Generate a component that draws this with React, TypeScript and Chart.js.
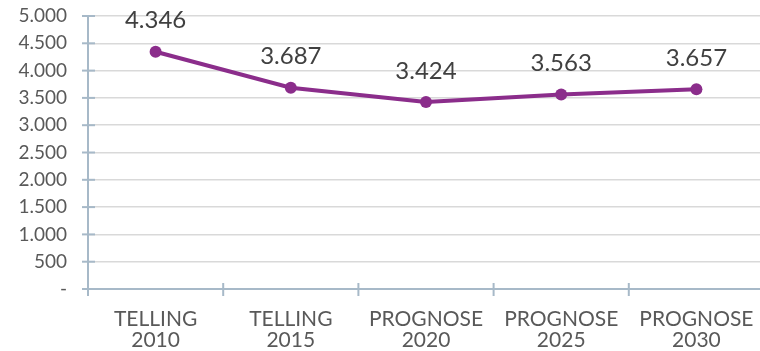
import React, { useEffect, useRef } from "react";
import { Chart, registerables } from "chart.js";

Chart.register(...registerables);

const categories: string[][] = [
  ["TELLING", "2010"],
  ["TELLING", "2015"],
  ["PROGNOSE", "2020"],
  ["PROGNOSE", "2025"],
  ["PROGNOSE", "2030"],
];
const values: number[] = [4346, 3687, 3424, 3563, 3657];
const yMin = 0;
const yMax = 5000;
const yStep = 500;

const fmt = (v: number): string =>
  v === 0 ? "-" : String(Math.round(v)).replace(/\B(?=(\d{3})+(?!\d))/g, ".");

const FONT = "Lato, 'Open Sans', sans-serif";
const AXIS = "#A7B9C8";
const LINE = "#8B2D8B";

const axesPlugin = {
  id: "axesPlugin",
  afterDatasetsDraw(chart: any) {
    const { ctx, chartArea, scales } = chart;
    const x = scales.x;
    const y = scales.y;
    ctx.save();
    ctx.strokeStyle = AXIS;
    ctx.lineWidth = 2;
    ctx.beginPath();
    ctx.moveTo(chartArea.left, chartArea.top);
    ctx.lineTo(chartArea.left, chartArea.bottom + 7);
    ctx.stroke();
    for (let v = yMin; v <= yMax; v += yStep) {
      const py = y.getPixelForValue(v);
      ctx.beginPath();
      ctx.moveTo(chartArea.left - 6, py);
      ctx.lineTo(chartArea.left + 7, py);
      ctx.stroke();
    }
    ctx.beginPath();
    ctx.moveTo(chartArea.left - 6, chartArea.bottom);
    ctx.lineTo(chartArea.right, chartArea.bottom);
    ctx.stroke();
    const half = (x.getPixelForValue(1) - x.getPixelForValue(0)) / 2;
    for (let i = 1; i <= categories.length; i++) {
      const px = x.getPixelForValue(i) - half;
      ctx.beginPath();
      ctx.moveTo(px, chartArea.bottom - 6);
      ctx.lineTo(px, chartArea.bottom + 7);
      ctx.stroke();
    }
    ctx.restore();
  },
  afterDraw(chart: any) {
    const { ctx } = chart;
    const meta = chart.getDatasetMeta(0);
    ctx.save();
    ctx.font = `24px ${FONT}`;
    ctx.fillStyle = "#404040";
    ctx.textAlign = "center";
    ctx.textBaseline = "middle";
    meta.data.forEach((pt: any, i: number) => {
      ctx.fillText(fmt(values[i]), pt.x, pt.y - 31);
    });
    ctx.restore();
  },
};

export default function App() {
  const ref = useRef<HTMLCanvasElement>(null);
  useEffect(() => {
    if (!ref.current) return;
    const chart = new Chart(ref.current, {
      type: "line",
      data: {
        labels: categories,
        datasets: [
          {
            data: values,
            borderColor: LINE,
            backgroundColor: LINE,
            borderWidth: 4,
            pointRadius: 6,
            pointBackgroundColor: LINE,
            pointBorderWidth: 0,
            tension: 0,
          },
        ],
      },
      options: {
        animation: false,
        responsive: false,
        maintainAspectRatio: false,
        layout: { padding: { top: 16, right: 0, left: 0, bottom: 0 } },
        plugins: { legend: { display: false }, tooltip: { enabled: false } },
        scales: {
          x: {
            offset: true,
            grid: { display: false, offset: true },
            border: { display: false },
            ticks: {
              color: "#595959",
              font: { family: FONT, size: 21, lineHeight: 1.0 },
              padding: 12,
              maxRotation: 0,
              autoSkip: false,
            },
            afterFit: (s: any) => {
              s.height = 62;
              s.paddingLeft = 0;
              s.paddingRight = 0;
            },
          },
          y: {
            min: yMin,
            max: yMax,
            grid: { color: "#D9D9D9", lineWidth: 1.5, drawTicks: false },
            border: { display: false },
            ticks: {
              stepSize: yStep,
              autoSkip: false,
              color: "#595959",
              font: { family: FONT, size: 19 },
              padding: 21,
              callback: (v: any) => fmt(Number(v)),
            },
            afterFit: (s: any) => {
              s.width = 88;
              s.paddingTop = 0;
              s.paddingBottom = 0;
            },
          },
        },
      },
      plugins: [axesPlugin],
    });
    return () => chart.destroy();
  }, []);
  return (
    <div
      style={{
        position: "fixed",
        left: 0,
        top: 0,
        width: 760,
        height: 351,
        overflow: "hidden",
        background: "#fff",
      }}
    >
      <canvas ref={ref} width={770} height={351} style={{ width: 770, height: 351 }} />
    </div>
  );
}
